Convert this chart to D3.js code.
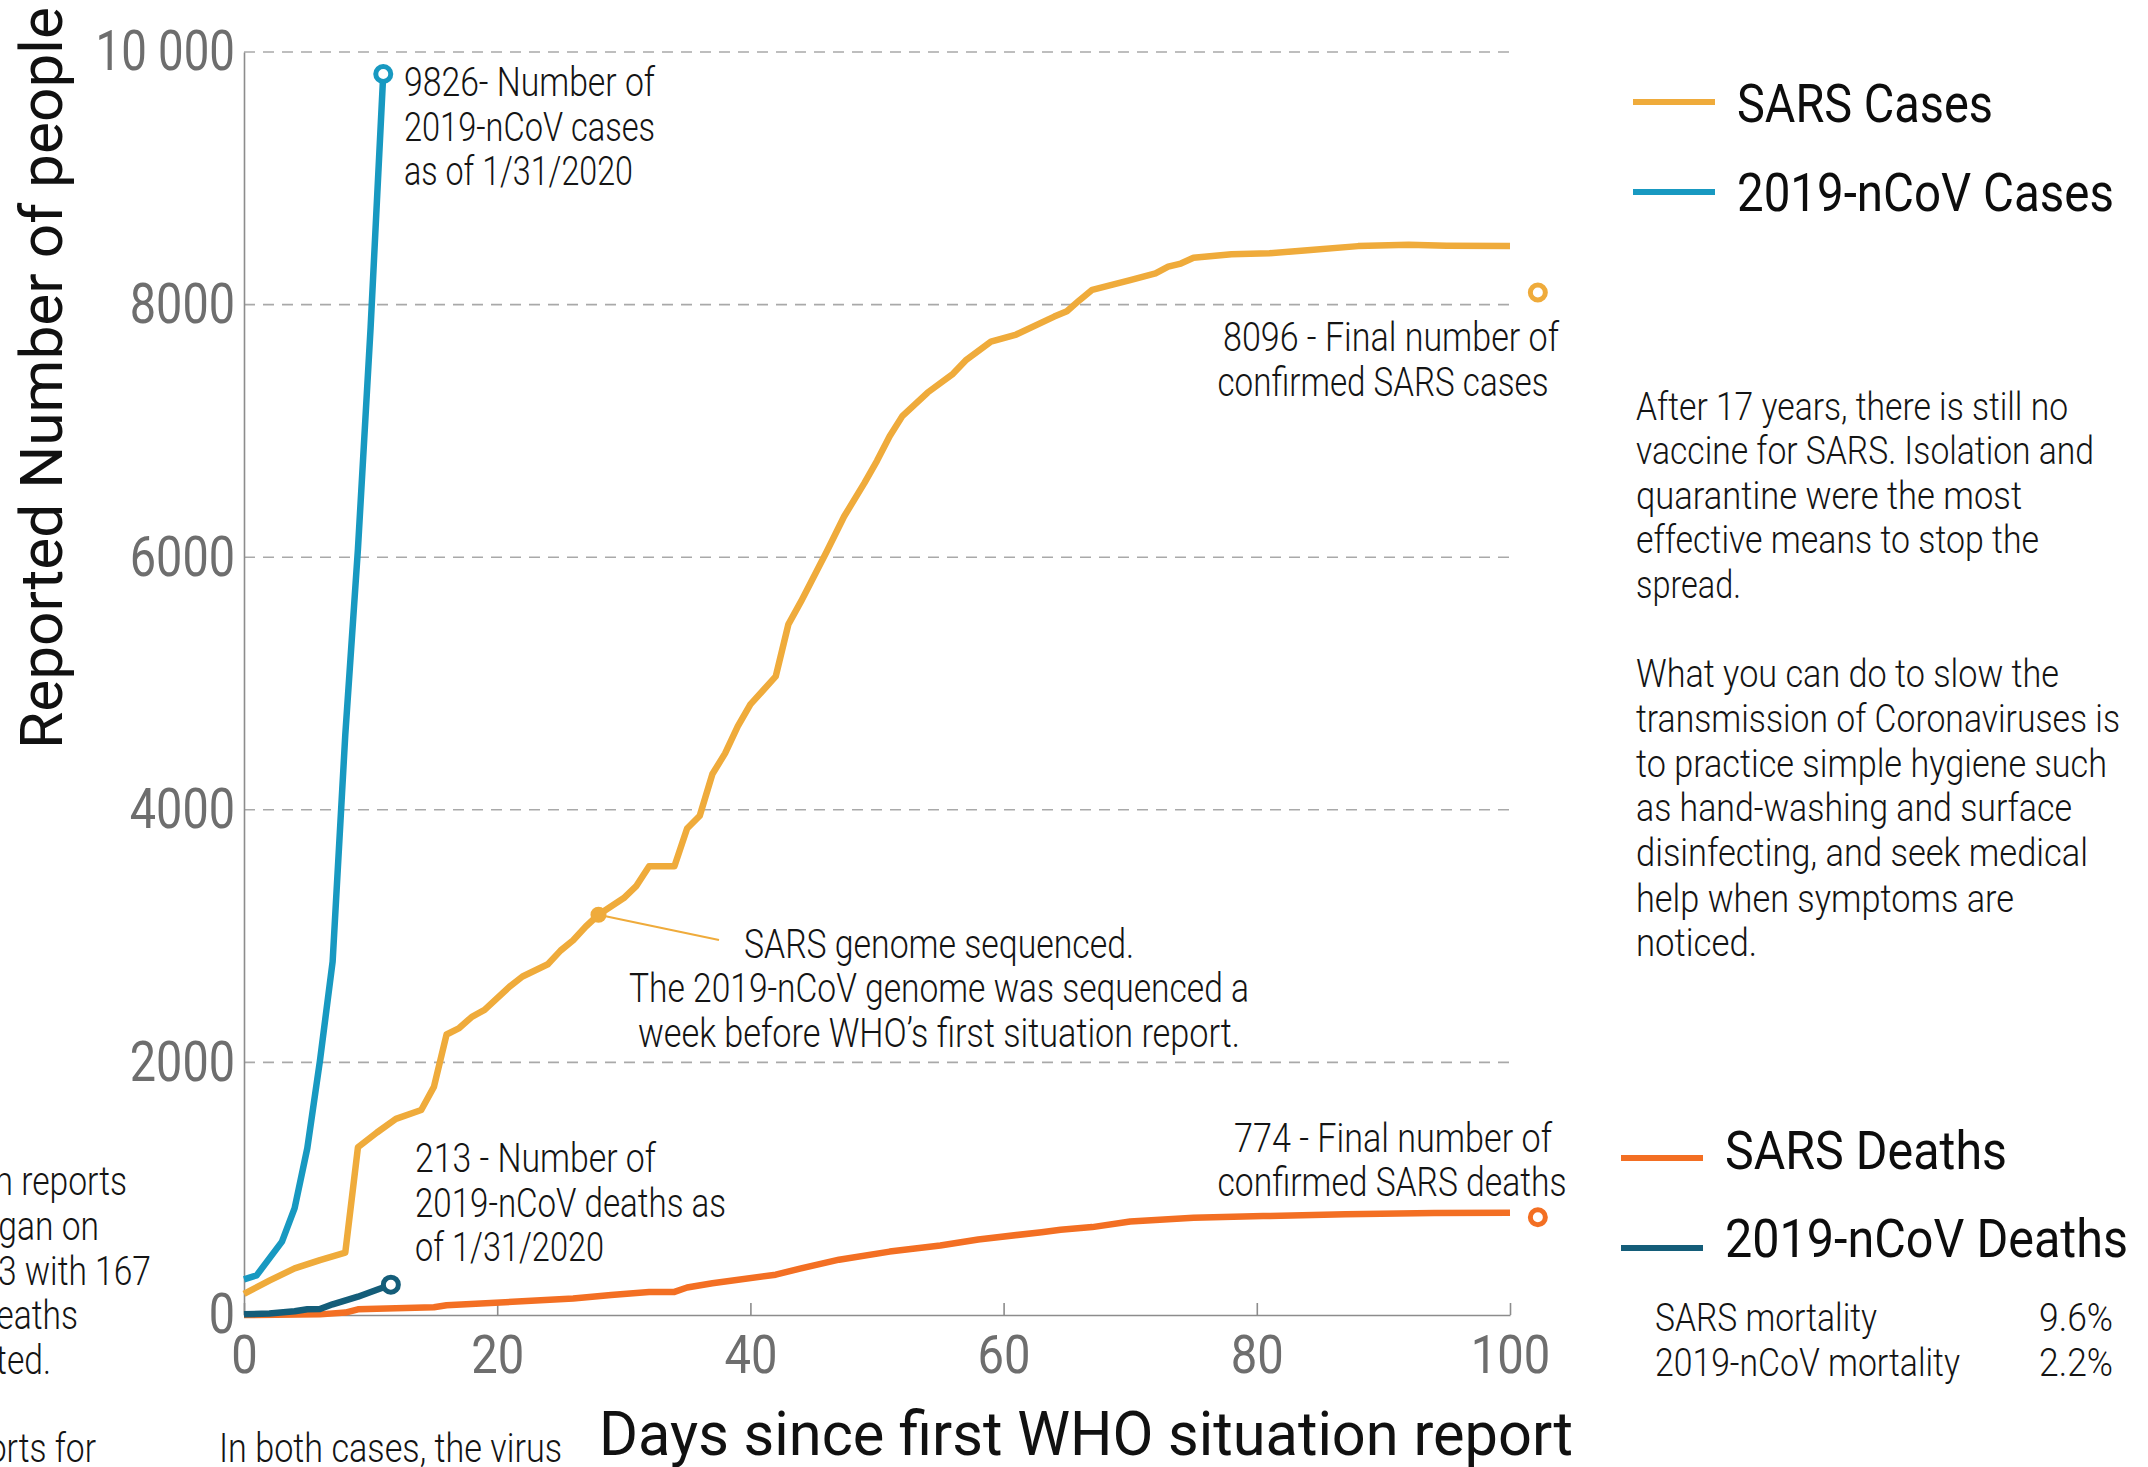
<!DOCTYPE html>
<html>
<head>
<meta charset="utf-8">
<script src="https://cdnjs.cloudflare.com/ajax/libs/d3/7.8.5/d3.min.js"></script>
<style>
  html, body { margin: 0; padding: 0; background: #fff; }
  svg { display: block; font-family: Roboto, "Noto Sans", sans-serif; }
</style>
</head>
<body>
<svg id="chart" width="2148" height="1467"></svg>
<script>
// ---------------- DATA ----------------
const xTicks = [0, 20, 40, 60, 80, 100];
const yTicks = [0, 2000, 4000, 6000, 8000, 10000];
const yTickLabels = ["0", "2000", "4000", "6000", "8000", "10 000"];

const sarsCaseDays = [0, 2, 4, 6, 8, 9, 10.5, 12, 14, 15, 16, 17, 18, 19, 21, 22, 24, 25, 26, 27, 28, 30, 31, 32, 34, 35, 36, 37, 38, 39, 40, 42, 43, 44, 46, 47.4, 49, 50, 51, 52, 54, 56, 57, 59, 61, 64, 65, 66, 67, 70, 72, 73, 74, 75, 78, 81, 84, 88, 92, 95, 100];
const sarsCases = [167, 272, 369, 435, 493, 1328, 1445, 1553, 1623, 1806, 2221, 2272, 2361, 2416, 2602, 2680, 2777, 2885, 2967, 3076, 3169, 3301, 3398, 3553, 3553, 3852, 3953, 4283, 4447, 4660, 4835, 5056, 5468, 5650, 6039, 6322, 6587, 6763, 6958, 7117, 7304, 7452, 7558, 7707, 7763, 7905, 7947, 8035, 8117, 8194, 8247, 8300, 8325, 8371, 8399, 8406, 8431, 8463, 8473, 8466, 8463];

const sarsDeathDays = [0, 6, 8, 9, 15, 16, 26, 29, 32, 34, 35, 37, 42, 44, 47, 51, 55, 58, 63, 64.5, 67, 70, 75, 80.5, 87, 94, 100];
const sarsDeaths = [0, 5, 19, 45, 61, 77, 130, 159, 183, 183, 218, 252, 319, 369, 438, 502, 550, 598, 656, 675, 696, 741, 770, 783, 797, 807, 810];

const ncovCaseDays = [0, 1, 3, 4, 5, 6, 7, 8, 9, 10, 11];
const ncovCases = [282, 314, 581, 846, 1320, 2014, 2798, 4593, 6065, 7818, 9826];

const ncovDeathDays = [0, 2, 4, 5, 6, 7, 9, 10.5, 11.6];
const ncovDeaths = [6, 12, 30, 45, 47, 85, 145, 200, 240];

// end-point markers: [day, value]
const finalSarsCases = [102.2, 8096];
const finalSarsDeaths = [102.2, 774];
const genomeDay = 28, genomeValue = 3169;

const colors = {
  sarsCases: "#EFAB3B",
  ncovCases: "#1899C1",
  sarsDeaths: "#F36F23",
  ncovDeaths: "#145D79"
};

// ---------------- LAYOUT ----------------
const svg = d3.select("#chart");
svg.append("rect").attr("width", 2148).attr("height", 1467).attr("fill", "#fff");

const x = d3.scaleLinear().domain([0, 100]).range([244, 1510]);
const y = d3.scaleLinear().domain([0, 10000]).range([1315, 52]);

function txt(str, px, py, o) {
  const t = svg.append("text")
    .attr("x", px).attr("y", py).attr("dy", "0.35em")
    .attr("font-size", o.size)
    .attr("font-weight", o.weight || 300)
    .attr("text-anchor", o.anchor || "start")
    .attr("fill", o.fill || "#141414")
    .text(str);
  if (o.width) t.attr("textLength", o.width).attr("lengthAdjust", "spacingAndGlyphs");
  if (o.scale) {
    const w = t.node().getComputedTextLength();
    t.attr("textLength", w * o.scale).attr("lengthAdjust", "spacingAndGlyphs");
  }
  return t;
}

// gridlines
svg.append("g").selectAll("line")
  .data(yTicks.filter(v => v > 0))
  .join("line")
  .attr("x1", x(0)).attr("x2", x(100))
  .attr("y1", d => y(d)).attr("y2", d => y(d))
  .attr("stroke", "#a9a9a9").attr("stroke-width", 1.6)
  .attr("stroke-dasharray", "11,8");

// x axis
const xAxis = svg.append("g")
  .attr("transform", `translate(0,${y(0)})`)
  .call(d3.axisBottom(x).tickValues(xTicks).tickSize(-12).tickSizeOuter(0).tickPadding(20));
xAxis.select(".domain").attr("stroke", "#8c8c8c").attr("stroke-width", 1.6);
xAxis.selectAll(".tick line").attr("stroke", "#8c8c8c").attr("stroke-width", 1.6);
xAxis.selectAll(".tick text")
  .attr("font-size", 54).attr("font-family", "Roboto").attr("font-weight", 400)
  .attr("fill", "#6e6e6e")
  .each(function(d) {
    const s = String(d);
    d3.select(this).attr("textLength", s.length * 26.5).attr("lengthAdjust", "spacingAndGlyphs");
  });

// y axis
const yAxis = svg.append("g")
  .attr("transform", `translate(${x(0)},0)`)
  .call(d3.axisLeft(y).tickValues(yTicks).tickSize(0).tickSizeOuter(0).tickPadding(9)
    .tickFormat((d, i) => yTickLabels[i]));
yAxis.select(".domain").attr("stroke", "#8c8c8c").attr("stroke-width", 1.6);
yAxis.selectAll(".tick text")
  .attr("font-size", 56).attr("font-family", "Roboto").attr("font-weight", 400)
  .attr("fill", "#6e6e6e")
  .each(function(d, i) {
    const s = yTickLabels[i];
    const digits = s.replace(/\s/g, "").length;
    const spaces = s.length - digits;
    d3.select(this).attr("textLength", digits * 26.3 + spaces * 8).attr("lengthAdjust", "spacingAndGlyphs");
  });

// axis titles
svg.append("text")
  .attr("transform", `translate(62,378) rotate(-90)`)
  .attr("text-anchor", "middle")
  .attr("font-size", 60).attr("font-weight", 400).attr("fill", "#111")
  .attr("textLength", 742).attr("lengthAdjust", "spacingAndGlyphs")
  .text("Reported Number of people");

svg.append("text")
  .attr("x", 1086).attr("y", 1455)
  .attr("text-anchor", "middle")
  .attr("font-size", 62).attr("font-weight", 400).attr("fill", "#111")
  .attr("textLength", 974).attr("lengthAdjust", "spacingAndGlyphs")
  .text("Days since first WHO situation report");

// lines
const line = d3.line().x(d => x(d[0])).y(d => y(d[1]));
const series = [
  { days: sarsDeathDays, vals: sarsDeaths, color: colors.sarsDeaths },
  { days: sarsCaseDays, vals: sarsCases, color: colors.sarsCases },
  { days: ncovDeathDays, vals: ncovDeaths, color: colors.ncovDeaths },
  { days: ncovCaseDays, vals: ncovCases, color: colors.ncovCases }
];
series.forEach(s => {
  svg.append("path")
    .datum(s.days.map((d, i) => [d, s.vals[i]]))
    .attr("d", line)
    .attr("fill", "none")
    .attr("stroke", s.color)
    .attr("stroke-width", 6.5)
    .attr("stroke-linejoin", "round");
});

// genome annotation leader + dot
svg.append("line")
  .attr("x1", x(genomeDay)).attr("y1", y(genomeValue))
  .attr("x2", 719).attr("y2", 940)
  .attr("stroke", colors.sarsCases).attr("stroke-width", 2.2);
svg.append("circle")
  .attr("cx", x(genomeDay)).attr("cy", y(genomeValue)).attr("r", 8)
  .attr("fill", colors.sarsCases);

// open end markers
const markers = [
  { p: [ncovCaseDays[ncovCaseDays.length - 1], ncovCases[ncovCases.length - 1]], c: colors.ncovCases },
  { p: [ncovDeathDays[ncovDeathDays.length - 1], ncovDeaths[ncovDeaths.length - 1]], c: colors.ncovDeaths },
  { p: finalSarsCases, c: colors.sarsCases },
  { p: finalSarsDeaths, c: colors.sarsDeaths }
];
svg.append("g").selectAll("circle").data(markers).join("circle")
  .attr("cx", d => x(d.p[0])).attr("cy", d => y(d.p[1])).attr("r", 7.5)
  .attr("fill", "#fff").attr("stroke", d => d.c).attr("stroke-width", 5);

// annotations
const A = 40;
txt("9826- Number of", 404, 82, { size: A, width: 251 });
txt("2019-nCoV cases", 404, 127, { size: A, width: 251 });
txt("as of 1/31/2020", 404, 171, { size: A, width: 229 });

txt("8096 - Final number of", 1391, 337, { size: A, anchor: "middle", width: 336 });
txt("confirmed SARS cases", 1383, 382, { size: A, anchor: "middle", width: 331 });

txt("SARS genome sequenced.", 939, 944, { size: A, anchor: "middle", width: 390 });
txt("The 2019-nCoV genome was sequenced a", 939, 988, { size: A, anchor: "middle", width: 620 });
txt("week before WHO\u2019s first situation report.", 939, 1033, { size: A, anchor: "middle", width: 602 });

txt("213 - Number of", 415, 1158, { size: A, width: 241 });
txt("2019-nCoV deaths as", 415, 1203, { size: A, width: 311 });
txt("of 1/31/2020", 415, 1247, { size: A, width: 189 });

txt("774 - Final number of", 1393, 1138, { size: A, anchor: "middle", width: 318 });
txt("confirmed SARS deaths", 1392, 1182, { size: A, anchor: "middle", width: 349 });

// text cut off at the left edge (as in the reference)
txt("n reports", 127, 1181, { size: A, anchor: "end", scale: 0.84 });
txt("gan on", 99, 1226, { size: A, anchor: "end", scale: 0.84 });
txt("3 with 167", 151, 1271, { size: A, anchor: "end", scale: 0.84 });
txt("eaths", 78, 1315, { size: A, anchor: "end", scale: 0.84 });
txt("ted.", 51, 1360, { size: A, anchor: "end", scale: 0.84 });
txt("orts for", 96, 1448, { size: A, anchor: "end", scale: 0.84 });
txt("In both cases, the virus", 219, 1448, { size: A, width: 343 });

// right-hand paragraph
const para = [
  ["After 17 years, there is still no", 407, 432],
  ["vaccine for SARS. Isolation and", 451, 458],
  ["quarantine were the most", 496, 386],
  ["effective means to stop the", 540, 403],
  ["spread.", 585, 105],
  ["What you can do to slow the", 674, 423],
  ["transmission of Coronaviruses is", 719, 484],
  ["to practice simple hygiene such", 764, 471],
  ["as hand-washing and surface", 808, 436],
  ["disinfecting, and seek medical", 853, 452],
  ["help when symptoms are", 899, 378],
  ["noticed.", 943, 121]
];
para.forEach(p => txt(p[0], 1636, p[1], { size: 38, width: p[2] }));

// legend
const legend = [
  { label: "SARS Cases", c: colors.sarsCases, lx: 1633, tx: 1737, ly: 102, ty: 103, w: 256 },
  { label: "2019-nCoV Cases", c: colors.ncovCases, lx: 1633, tx: 1737, ly: 192, ty: 192, w: 377 },
  { label: "SARS Deaths", c: colors.sarsDeaths, lx: 1621, tx: 1725, ly: 1158, ty: 1150, w: 282 },
  { label: "2019-nCoV Deaths", c: colors.ncovDeaths, lx: 1621, tx: 1725, ly: 1248, ty: 1238, w: 403 }
];
legend.forEach(l => {
  svg.append("line").attr("x1", l.lx).attr("x2", l.lx + 82).attr("y1", l.ly).attr("y2", l.ly)
    .attr("stroke", l.c).attr("stroke-width", 6);
  txt(l.label, l.tx, l.ty, { size: 54, weight: 400, fill: "#0d0d0d", width: l.w });
});

// mortality table
txt("SARS mortality", 1655, 1318, { size: 38, width: 222 });
txt("9.6%", 2113, 1318, { size: 38, anchor: "end", width: 74 });
txt("2019-nCoV mortality", 1655, 1363, { size: 38, width: 305 });
txt("2.2%", 2113, 1363, { size: 38, anchor: "end", width: 74 });
</script>
</body>
</html>
